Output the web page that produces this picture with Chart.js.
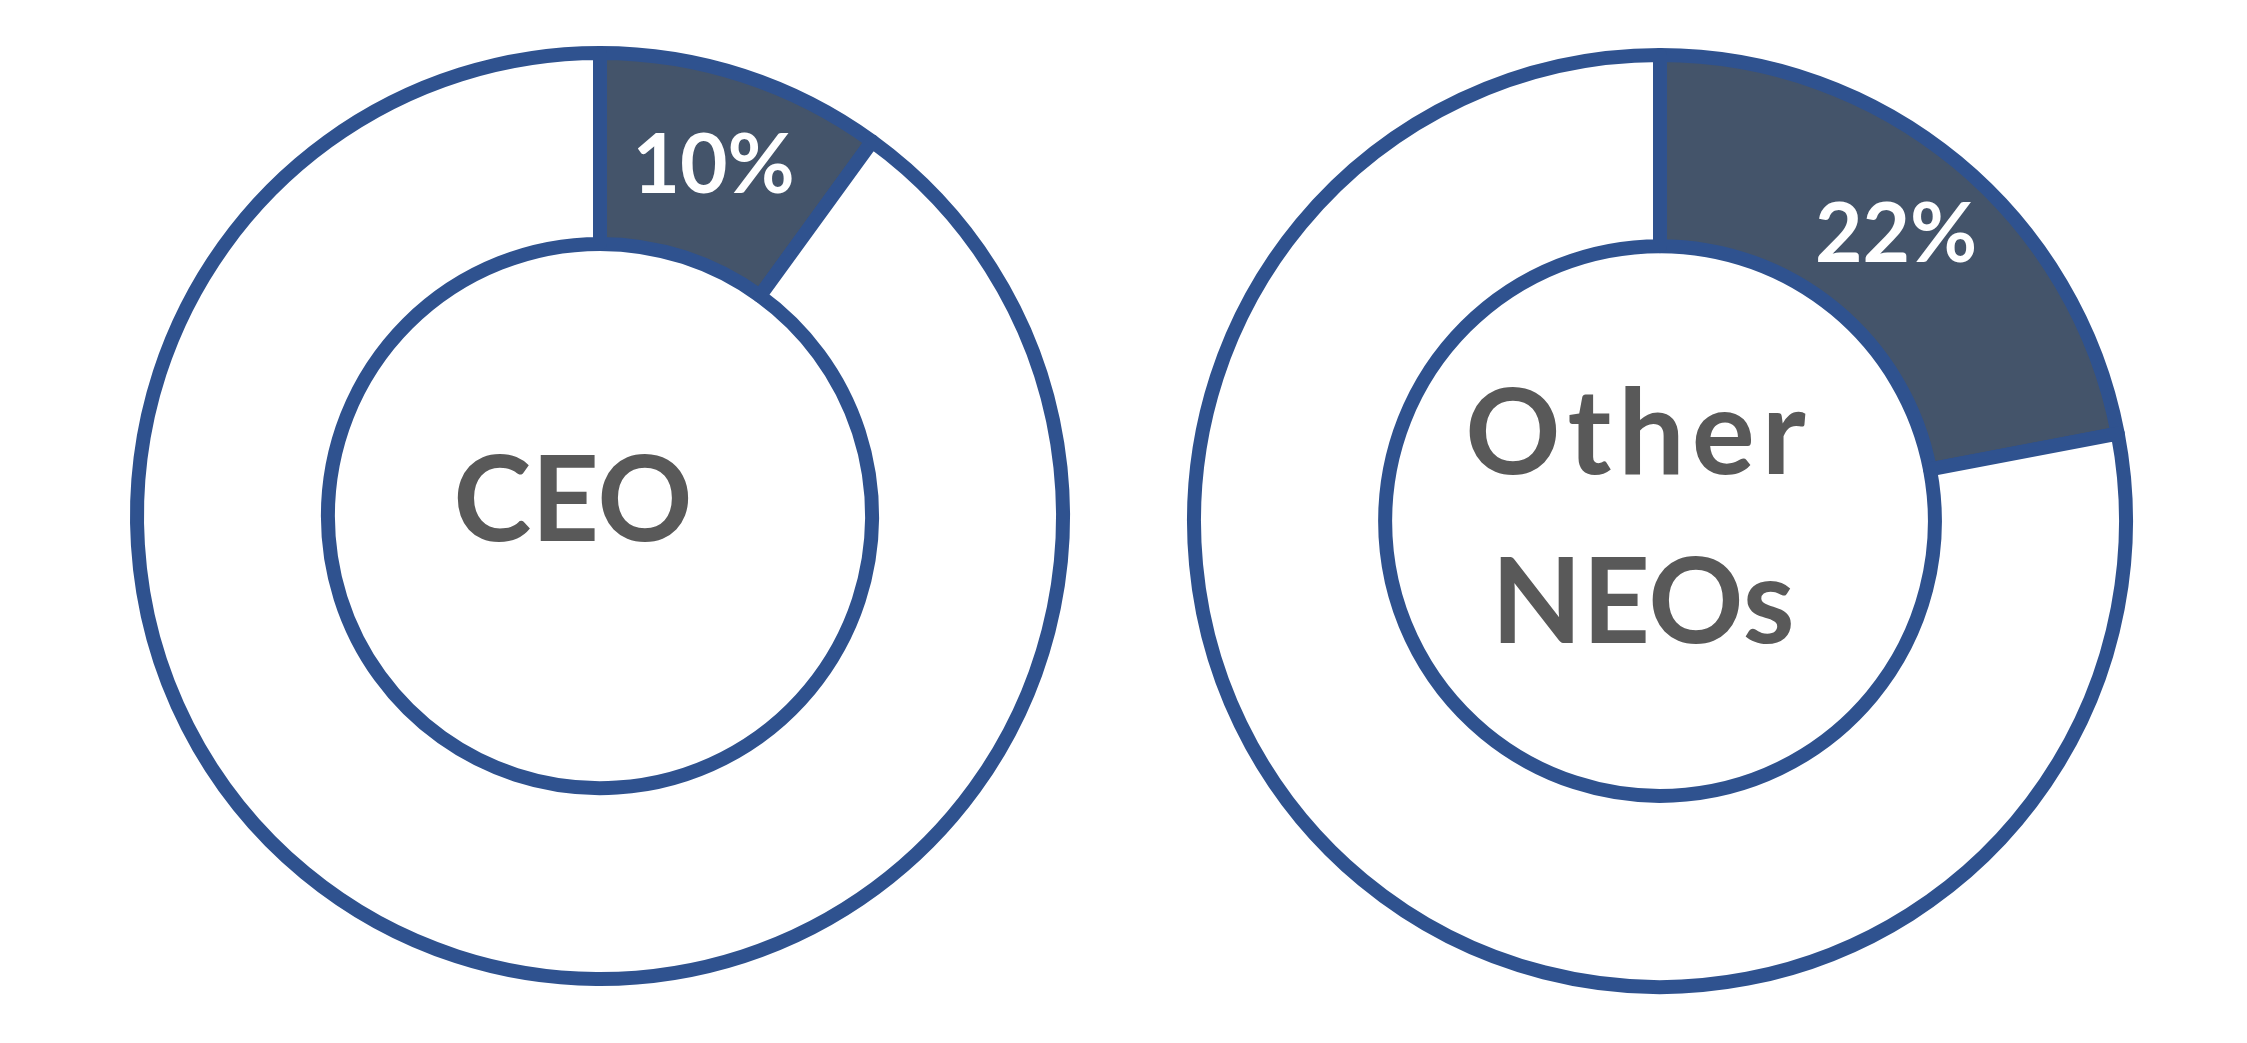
<!DOCTYPE html>
<html>
<head>
<meta charset="utf-8">
<script src="https://cdn.jsdelivr.net/npm/chart.js@4"></script>
<style>
  html, body { margin: 0; padding: 0; background: #fff; }
  body { width: 2247px; height: 1043px; position: relative; overflow: hidden; }
  canvas { position: absolute; }
  #ceoChart { left: 120px; top: 36px; }
  #neoChart { left: 1180px; top: 41px; }
</style>
</head>
<body>
<canvas id="ceoChart" width="960" height="960"></canvas>
<canvas id="neoChart" width="960" height="960"></canvas>
<script>
// slice labels and values (percent)
var sliceNames = ['Share', 'Rest'];
var ceoValues = [10, 90];
var neoValues = [22, 78];
var ceoTitle = ['CEO'];
var neoTitle = ['Other', 'NEOs'];

var sliceColor = '#44546A';
var borderColor = '#2F528F';
var fontName = 'Lato, "Open Sans", sans-serif';

// draws the % label on the first slice and the title in the hole
var labelPlugin = {
    id: 'donutLabels',
    afterDatasetsDraw: function(chart, args, opts) {
        var ctx = chart.ctx;
        var arc = chart.getDatasetMeta(0).data[0];
        var pos = arc.tooltipPosition();
        ctx.save();
        ctx.textAlign = 'center';
        ctx.textBaseline = 'middle';
        ctx.fillStyle = '#ffffff';
        ctx.font = 'bold 82px ' + fontName;
        ctx.fillText(chart.data.datasets[0].data[0] + '%', pos.x, pos.y);

        ctx.fillStyle = '#595959';
        ctx.font = 'bold 118px ' + fontName;
        var lines = opts.title;
        var lineH = 169;
        var startY = arc.y + opts.dy - (lines.length - 1) * lineH / 2;
        for (var i = 0; i < lines.length; i++) {
            var sp = (opts.spacing && opts.spacing[i]) || 0;
            var shift = (opts.shift && opts.shift[i]) || 0;
            ctx.letterSpacing = sp + 'px';
            ctx.fillText(lines[i], arc.x + opts.dx + shift, startY + i * lineH);
        }
        ctx.restore();
    }
};

function makeDonut(id, values, title, outer, inner, dx, dy, spacing, shift) {
    return new Chart(document.getElementById(id), {
        type: 'doughnut',
        data: {
            labels: sliceNames,
            datasets: [{
                data: values,
                backgroundColor: [sliceColor, '#ffffff'],
                borderColor: borderColor,
                borderWidth: 14,
                borderJoinStyle: 'round'
            }]
        },
        options: {
            responsive: false,
            animation: false,
            radius: outer,
            cutout: inner,
            layout: { padding: 0 },
            plugins: {
                legend: { display: false },
                tooltip: { enabled: false },
                donutLabels: { title: title, dx: dx, dy: dy, spacing: spacing, shift: shift }
            }
        },
        plugins: [labelPlugin]
    });
}

makeDonut('ceoChart', ceoValues, ceoTitle, 463, 278, -27, -13, [0], [0]);
makeDonut('neoChart', neoValues, neoTitle, 466, 279, -17, -1, [7, 0], [-4, 0]);
</script>
</body>
</html>
